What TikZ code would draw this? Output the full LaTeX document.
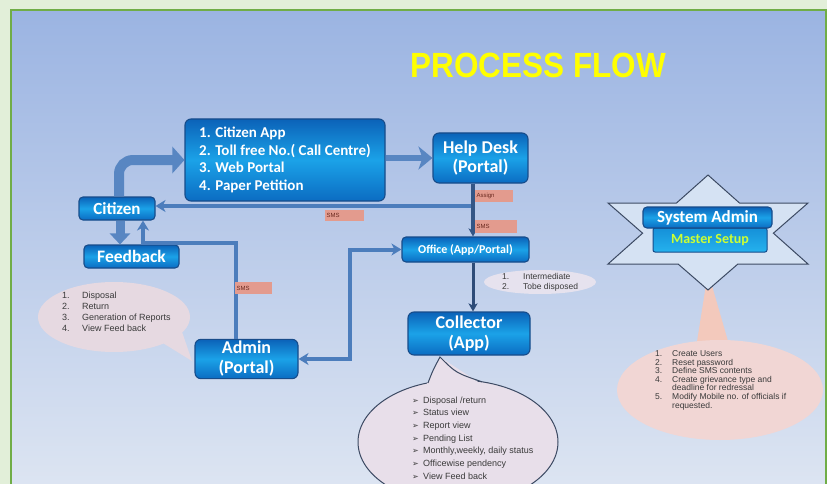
\documentclass[tikz,border=0pt]{standalone}
\usepackage{fontspec}
\setmainfont{Liberation Sans}
\newfontfamily\boxfont{Carlito}
\newfontfamily\dingfont{DejaVu Sans}
\usetikzlibrary{arrows.meta,shapes.geometric,calc}

\definecolor{outerbg}{HTML}{E2EFD9}
\definecolor{panelTop}{HTML}{9BB4E2}
\definecolor{panelBot}{HTML}{DDE5F2}
\definecolor{panelline}{HTML}{70AD47}
\definecolor{boxTop}{HTML}{0B62B8}
\definecolor{boxMid}{HTML}{1BA2E8}
\definecolor{boxBot}{HTML}{0B6CC2}
\definecolor{boxedge}{HTML}{174C8A}
\definecolor{connc}{HTML}{4C7DBC}
\definecolor{fatc}{HTML}{5886C2}
\definecolor{darkconn}{HTML}{2E4C78}
\definecolor{lblc}{HTML}{E39B8E}
\definecolor{lbltxt}{HTML}{6B2A20}
\definecolor{titleY}{HTML}{FFFF00}
\definecolor{starfill}{HTML}{D5E2F3}
\definecolor{staredge}{HTML}{3C4A63}
\definecolor{masterTxt}{HTML}{CCFF33}
\definecolor{masterTop}{HTML}{1590D8}
\definecolor{masterBot}{HTML}{25B2EE}
\definecolor{lavcall}{HTML}{E8DFEA}
\definecolor{leftcall}{HTML}{E6D9E1}
\definecolor{offcall}{HTML}{E6E2EE}
\definecolor{pinkcall}{HTML}{F1D6D4}
\definecolor{paletail}{HTML}{F3C9BC}
\definecolor{calltxt}{HTML}{3A3A3A}

\newcommand\boxsz[2]{\boxfont\bfseries\fontsize{#1}{#2}\selectfont}
\newcommand\arrowbullet{{\dingfont\fontsize{8}{8}\selectfont ➢}}

\begin{document}
\begin{tikzpicture}[x=1pt,y=-1pt,
  bluebox/.style={rounded corners=6pt, draw=boxedge, line width=1.1pt,
    top color=boxTop, bottom color=boxBot, middle color=boxMid,
    text=white, align=center, inner sep=2pt},
  fatline/.style={draw=fatc, line cap=butt},
  conn/.style={draw=connc, line width=4pt,
    -{Stealth[length=10pt,width=12pt,inset=3pt]}},
  tag/.style={fill=lblc, inner xsep=1.5pt, inner ysep=0pt, text=lbltxt,
    font=\fontsize{6}{6}\selectfont, align=left, minimum height=11pt},
  calltext/.style={inner sep=0pt, text=calltxt, anchor=base west}
]
\useasboundingbox (0,0) rectangle (827,484);
\clip (0,0) rectangle (827,484);

% page and panel
\fill[outerbg] (0,0) rectangle (827,484);
\shade[top color=panelTop, bottom color=panelBot] (11,10) rectangle (826,490);
\draw[panelline, line width=2.5pt] (11,490) -- (11,10) -- (826,10) -- (826,490);

% title
\node[text=titleY, font=\fontsize{35}{35}\selectfont\bfseries] (title) at (538,65.5)
  {\scalebox{0.9}[1]{PROCESS FLOW}};

% callout bubbles (behind everything else)
\fill[leftcall] (114,317) ellipse [x radius=76pt, y radius=35pt];
\fill[leftcall] (158,340) -- (192,361) -- (180,326) -- cycle;

\fill[offcall] (540,282) ellipse [x radius=56pt, y radius=12pt];

\fill[paletail] (708,272) -- (696,348) -- (730,348) -- cycle;
\fill[pinkcall] (720,390) ellipse [x radius=103pt, y radius=50pt];

\fill[lavcall] (458,442) ellipse [x radius=100pt, y radius=62pt];
\draw[staredge, line width=1pt] (458,442) ellipse [x radius=100pt, y radius=62pt];
\fill[lavcall] (426,386) -- (440,357) -- (484,386) -- cycle;
\draw[staredge, line width=1pt] (428,382.9) .. controls (433,370) .. (440,357)
  .. controls (456,373) .. (482,381.8);

% star around the system admin
\filldraw[fill=starfill, draw=staredge, line width=1pt, line join=miter]
  (708,175) -- (739.5,203) -- (808,203) -- (773.4,233.2) -- (808,264)
  -- (737.9,264) -- (708,290) -- (678.1,264) -- (608,264) -- (642.6,233.2)
  -- (608,203) -- (676.5,203) -- cycle;

% main boxes
\node[bluebox, minimum width=200pt, minimum height=82pt, align=left,
      font=\boxsz{15}{17.5}] (chan) at (285,160)
  {1. Citizen App\\2. Toll free No.( Call Centre)\\3. Web Portal\\4. Paper Petition};
\node[bluebox, minimum width=95pt, minimum height=50pt, font=\boxsz{18}{19}] (hd) at (480.5,158)
  {Help Desk\\(Portal)};
\node[bluebox, rounded corners=4pt, minimum width=76pt, minimum height=23pt,
      font=\boxsz{17}{17}] (cit) at (117,208.5) {Citizen};
\node[bluebox, rounded corners=4pt, minimum width=95pt, minimum height=23pt,
      font=\boxsz{17.5}{17.5}] (fb) at (131.5,256.5) {Feedback};
\node[bluebox, rounded corners=4pt, minimum width=127pt, minimum height=25pt,
      font=\boxsz{12}{12}] (off) at (465.5,249.5) {Office (App/Portal)};
\node[bluebox, minimum width=122pt, minimum height=43pt, font=\boxsz{18}{20}] (col) at (469,333.5)
  {Collector\\(App)};
\node[bluebox, minimum width=103pt, minimum height=38pt, font=\boxsz{18}{20}] (adm) at (246.5,359)
  {Admin\\(Portal)};
\node[rounded corners=2pt, draw=boxedge, line width=1pt, top color=masterTop,
      bottom color=masterBot, minimum width=114pt, minimum height=24pt,
      text=masterTxt, font=\boxsz{14}{14}] (mst) at (710,240) {Master Setup};
\node[bluebox, rounded corners=4pt, minimum width=129pt, minimum height=21pt,
      font=\boxsz{17}{17}] (sys) at (707.5,217.5) {System Admin};

% connectors
\coordinate (vx) at (473,0);
\coordinate (split) at (473,206);
\coordinate (fbturn) at (143,243);
\coordinate (bend) at (350,0);

\draw[fatline, line width=10pt, rounded corners=14pt,
      -{Triangle[length=12pt,width=26pt]}] ([xshift=2pt]cit.north) |- (chan.west);
\draw[fatline, line width=9pt, -{Triangle[length=11pt,width=20pt]}]
  ([xshift=3pt]cit.south) -- ([xshift=3pt]cit.south |- fb.north);
\draw[fatline, line width=6pt, -{Stealth[length=14pt,width=23pt,inset=4pt]}]
  (chan.east |- hd.west) -- (hd.west);

\draw[conn] ([xshift=-11pt]adm.north) |- (fbturn) -- (fbturn |- cit.south);
\draw[conn] (split) -- (cit.east |- split);
\draw[conn, line width=3.5pt, draw=darkconn!80!connc,
      -{Stealth[length=8pt,width=9pt,inset=2pt]}] (hd.south -| vx) -- (off.north -| vx);
\draw[conn, line width=3pt, draw=darkconn,
      -{Stealth[length=8pt,width=9pt,inset=2pt]}] (off.south -| vx) -- (col.north -| vx);
\draw[conn, {Stealth[length=10pt,width=12pt,inset=3pt]}-{Stealth[length=10pt,width=12pt,inset=3pt]}]
  (off.west) -| (bend |- adm.east) -- (adm.east);

% message tags
\node[tag, text width=36pt] (sms1) at (344.5,215.5) {SMS};
\node[tag, text width=35pt, minimum height=12pt] (asg) at (494,196) {Assign};
\node[tag, text width=39pt, minimum height=13pt] (sms2) at (496,226) {SMS};
\node[tag, text width=34pt, minimum height=12pt] (sms3) at (253.5,288) {SMS};

% callout texts
\node[calltext] (lefttxt) at (62,298)
  {\fontsize{9}{11.3}\selectfont\begin{tabular}[t]{@{}p{20pt}@{}l@{}}
   1. & Disposal\\ 2. & Return\\ 3. & Generation of Reports\\ 4. & View Feed back
   \end{tabular}};
\node[calltext] (offtxt) at (502,279.7)
  {\fontsize{8.5}{10}\selectfont\begin{tabular}[t]{@{}p{21pt}@{}l@{}}
   1. & Intermediate\\ 2. & Tobe disposed
   \end{tabular}};
\node[calltext] (coltxt) at (412,403)
  {\fontsize{9}{12.67}\selectfont\begin{tabular}[t]{@{}p{11pt}@{}l@{}}
   \arrowbullet & Disposal /return\\
   \arrowbullet & Status view\\
   \arrowbullet & Report view\\
   \arrowbullet & Pending List\\
   \arrowbullet & Monthly,weekly, daily status\\
   \arrowbullet & Officewise pendency\\
   \arrowbullet & View Feed back
   \end{tabular}};
\node[calltext] (systxt) at (655,356.7)
  {\fontsize{8.5}{8}\selectfont\begin{tabular}[t]{@{}p{17pt}@{}l@{}}
   1. & Create Users\\ 2. & Reset password\\ 3. & Define SMS contents\\
   4. & Create grievance type and\\ & deadline for redressal\\
   5. & Modify Mobile no. of officials if\\ & requested.
   \end{tabular}};
\end{tikzpicture}
\end{document}
